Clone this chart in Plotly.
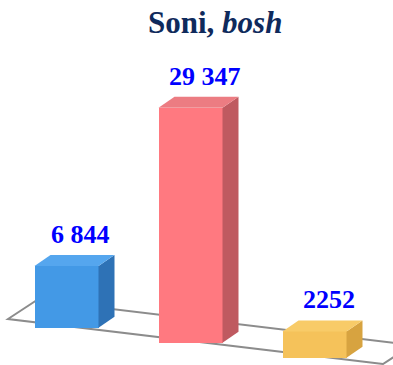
import plotly.graph_objects as go

# --- data -------------------------------------------------------------
values = [6844, 29347, 2252]
value_labels = ["6 844", "29 347", "2252"]
slots = [0, 1, 2]
face_colors = ["#4399E6", "#FF7980", "#F5C25A"]
side_colors = ["#2E72B6", "#BF5A60", "#D7A340"]
top_colors = ["#55A6EE", "#EC7C82", "#F8CB68"]

# --- geometry of the pseudo-3D scene ------------------------------------
W, H = 393, 365
X_PX = 124.0          # pixels per slot
X0_PX = 66.5          # pixel column of slot 0
Y_UNIT = 1 / 0.0077   # value units per pixel row
P0 = 300              # pixel row where value 0 would sit
FLOOR_SLOPE = 0.121   # floor drops to the right (px per px)
FOOT_ROW = 327.8      # pixel row of the first bar's foot
PLINTH_PX = 9         # floor thickness under every bar
BAR_W_PX = 64
DEPTH_DX_PX, DEPTH_DY_PX = 16, 11


def xd(px):
    return (px - X0_PX) / X_PX


def yd(py):
    return (P0 - py) * Y_UNIT


def slot_px(i):
    return X0_PX + i * X_PX


plinth = PLINTH_PX * Y_UNIT
foot = [yd(FOOT_ROW + FLOOR_SLOPE * (slot_px(i) - X0_PX)) for i in slots]
width = BAR_W_PX / X_PX
dx = DEPTH_DX_PX / X_PX
dy = DEPTH_DY_PX * Y_UNIT

fig = go.Figure()

# plinth under each column
fig.add_trace(go.Bar(
    x=slots, y=[plinth] * len(slots), base=foot, width=width,
    marker=dict(color=face_colors, line=dict(width=0)),
    hoverinfo="skip", showlegend=False,
))
# the columns themselves
fig.add_trace(go.Bar(
    x=slots, y=values, base=[f + plinth for f in foot], width=width,
    marker=dict(color=face_colors, line=dict(width=0)),
    hoverinfo="skip", showlegend=False,
))

shapes = []

# floor plane
floor_pts = [(8, 319), (37, 300), (412, 345), (383, 364)]
path = "M " + " L ".join(f"{xd(px)},{yd(py)}" for px, py in floor_pts) + " Z"
shapes.append(dict(type="path", path=path, xref="x", yref="y",
                   fillcolor="white", line=dict(color="#8C8C8C", width=2),
                   layer="below"))

annotations = []
for i, v in enumerate(values):
    x0 = i - width / 2
    x1 = i + width / 2
    bottom = foot[i]
    top = foot[i] + plinth + v
    side = (f"M {x1},{bottom} L {x1},{top} L {x1 + dx},{top + dy} "
            f"L {x1 + dx},{bottom + dy} Z")
    shapes.append(dict(type="path", path=side, xref="x", yref="y",
                       fillcolor=side_colors[i], line=dict(width=0)))
    lid = (f"M {x0},{top} L {x1},{top} L {x1 + dx},{top + dy} "
           f"L {x0 + dx},{top + dy} Z")
    shapes.append(dict(type="path", path=lid, xref="x", yref="y",
                       fillcolor=top_colors[i], line=dict(width=0)))
    annotations.append(dict(
        x=i + 14 / X_PX, y=top + dy, xref="x", yref="y",
        text=f"<b>{value_labels[i]}</b>", showarrow=False,
        xanchor="center", yanchor="bottom", yshift=4,
        font=dict(family="Liberation Serif", size=26, color="#0000FF"),
    ))

annotations.append(dict(
    x=215 / W, y=1, xref="paper", yref="paper",
    text="<b>Soni, <i>bosh</i></b>", showarrow=False,
    xanchor="center", yanchor="top", yshift=-3,
    font=dict(family="Liberation Serif", size=31, color="#0F2A5C"),
))

fig.update_layout(
    width=W, height=H,
    margin=dict(l=0, r=0, t=0, b=0),
    paper_bgcolor="white", plot_bgcolor="white",
    barmode="overlay", bargap=0,
    xaxis=dict(range=[xd(0), xd(W)], visible=False, fixedrange=True),
    yaxis=dict(range=[yd(H), yd(0)], visible=False, fixedrange=True),
    shapes=shapes, annotations=annotations,
    showlegend=False,
)

fig.write_html("out.html")
